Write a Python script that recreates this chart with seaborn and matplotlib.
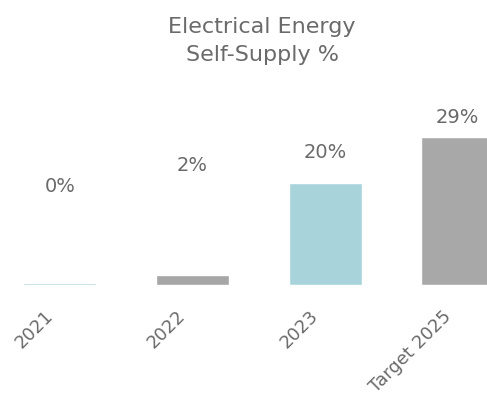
import matplotlib
matplotlib.use("Agg")
import matplotlib.pyplot as plt
import matplotlib.transforms as mtransforms
import seaborn as sns
import pandas as pd

categories = ["2021", "2022", "2023", "Target 2025"]
values = [0.3, 2, 20, 29]
value_labels = ["0%", "2%", "20%", "29%"]
bar_colors = ["#a9d3db", "#a6a6a6", "#a9d3db", "#a8a8a8"]
label_offsets = [19.0, 21.5, 6.0, 3.8]

sns.set_theme(style="white")
plt.rcParams["font.family"] = ["DejaVu Sans"]
text_color = "#6a6a6a"

df = pd.DataFrame({"category": categories, "value": values})

fig = plt.figure(figsize=(4.87, 4.04), dpi=100)
ax = fig.add_axes([0.0, 119 / 404, 1.0, 205 / 404])

sns.barplot(data=df, x="category", y="value", hue="category",
            palette=bar_colors, width=0.55, legend=False, ax=ax,
            saturation=1)

for i, (v, lab, off) in enumerate(zip(values, value_labels, label_offsets)):
    ax.text(i, v + off, lab, ha="center", va="center",
            fontsize=14, color=text_color)

ax.set_xlim(-0.45, 3.22)
ax.set_ylim(0, 40.2)
ax.set_xlabel("")
ax.set_ylabel("")
ax.set_yticks([])
for s in ax.spines.values():
    s.set_visible(False)
ax.tick_params(axis="x", length=0, pad=16)
shift = mtransforms.ScaledTranslation(-16 / 100, 0, fig.dpi_scale_trans)
for t in ax.get_xticklabels():
    t.set_rotation(45)
    t.set_ha("right")
    t.set_va("top")
    t.set_rotation_mode("anchor")
    t.set_fontsize(13)
    t.set_color(text_color)
    t.set_transform(t.get_transform() + shift)

fig.text(262 / 487, 1 - 41 / 404, "Electrical Energy\nSelf-Supply %",
         ha="center", va="center", fontsize=16, color=text_color,
         linespacing=1.45)

fig.savefig("out.png", dpi=100)
